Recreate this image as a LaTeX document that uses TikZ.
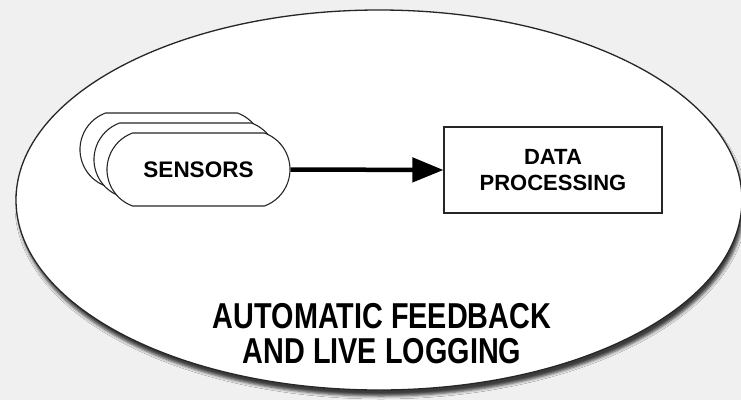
\documentclass[tikz,border=0pt]{standalone}
\usepackage{fontspec}
\setmainfont{Liberation Sans}
\usetikzlibrary{arrows.meta,shapes.geometric,shapes.misc,shadows.blur}

\begin{document}
\begin{tikzpicture}[x=1pt,y=-1pt,
  outline/.style={draw=black!85, fill=white},
  sensorbox/.style={outline, rounded rectangle, rounded rectangle arc length=140,
    line width=1.1pt, minimum width=183pt, minimum height=73pt, inner sep=0pt,
    font=\bfseries\fontsize{22.5}{26.7}\selectfont},
  procbox/.style={outline, rectangle, line width=1.1pt, minimum width=218pt,
    minimum height=86pt, inner sep=0pt, align=center,
    font=\bfseries\fontsize{22}{26.7}\selectfont},
  loopshape/.style={outline, ellipse, line width=1.3pt, minimum width=726pt,
    minimum height=380pt, inner sep=0pt,
    blur shadow={shadow xshift=2pt, shadow yshift=-6pt,
      shadow blur radius=3pt, shadow opacity=75}},
  caption/.style={align=center, xscale=0.8,
    font=\bfseries\fontsize{36}{35}\selectfont},
  flow/.style={line width=4.5pt, -{Triangle[length=31pt,width=24pt]}}
]
\useasboundingbox (0,0) rectangle (741,399);
% soft grey backdrop
\shade[inner color=white, outer color=black!6] (0,0) rectangle (741,399);

% surrounding loop
\node[loopshape] (loop) at (379,200) {};

% stacked sensor cards, back to front
\node[sensorbox] (s3) at (171.5,149.5) {};
\node[sensorbox] (s2) at (185.5,159.5) {};
\node[sensorbox] (sensors) at (198.5,169.5) {SENSORS};

% processing block
\node[procbox] (proc) at (553,170) {DATA\\PROCESSING};

\draw[flow] (sensors.east) -- (proc.west);

\node[caption] (note) at (382,334) {AUTOMATIC FEEDBACK\\AND LIVE LOGGING};
\end{tikzpicture}
\end{document}
